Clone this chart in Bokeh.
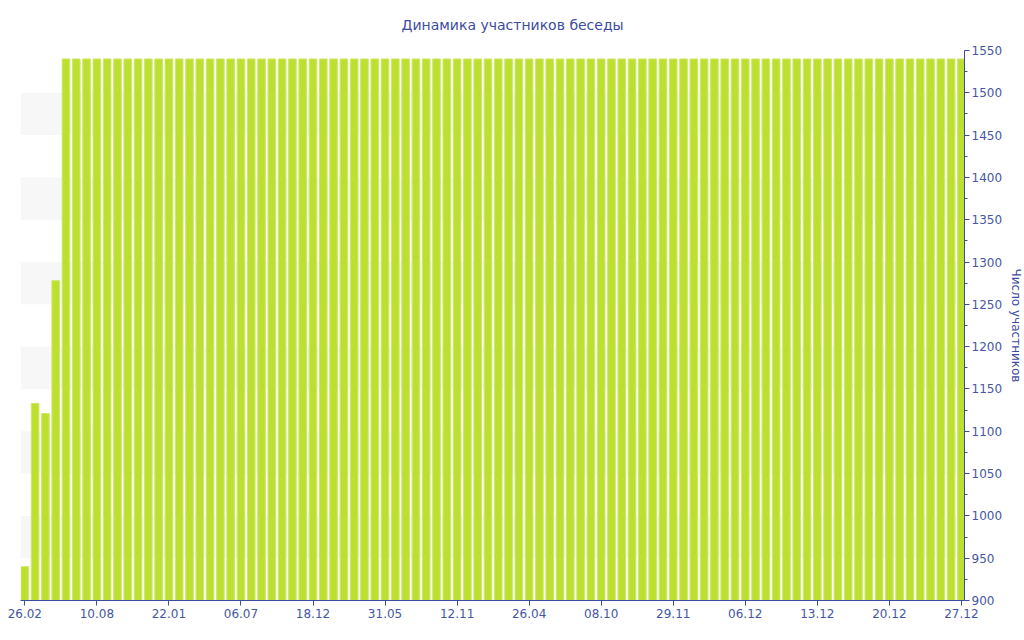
from bokeh.plotting import figure
from bokeh.models import LinearAxis, FixedTicker, Range1d, BoxAnnotation
from bokeh.embed import file_html
from bokeh.resources import INLINE

values = [940, 1133, 1121, 1278,
          1540, 1540, 1540, 1540, 1540, 1540, 1540, 1540,
          1540, 1540, 1540, 1540, 1540, 1540, 1540, 1540,
          1540, 1540, 1540, 1540, 1540, 1540, 1540, 1540,
          1540, 1540, 1540, 1540, 1540, 1540, 1540, 1540,
          1540, 1540, 1540, 1540, 1540, 1540, 1540, 1540,
          1540, 1540, 1540, 1540, 1540, 1540, 1540, 1540,
          1540, 1540, 1540, 1540, 1540, 1540, 1540, 1540,
          1540, 1540, 1540, 1540, 1540, 1540, 1540, 1540,
          1540, 1540, 1540, 1540, 1540, 1540, 1540, 1540,
          1540, 1540, 1540, 1540, 1540, 1540, 1540, 1540,
          1540, 1540, 1540, 1540, 1540, 1540, 1540, 1540]
tick_labels = ["26.02", "10.08", "22.01", "06.07", "18.12", "31.05", "12.11",
               "26.04", "08.10", "29.11", "06.12", "13.12", "20.12", "27.12"]
tick_step = 7
band_ranges = [(950, 1000), (1050, 1100), (1150, 1200), (1250, 1300),
               (1350, 1400), (1450, 1500)]
y_ticks = [900, 950, 1000, 1050, 1100, 1150, 1200, 1250, 1300, 1350,
           1400, 1450, 1500, 1550]

BLUE = "#3c4da0"
TXT = "#4557a3"

x = list(range(len(values)))
p = figure(frame_width=944, frame_height=550, output_backend="svg",
           toolbar_location=None, x_range=Range1d(-0.42, 91.3),
           y_range=Range1d(900, 1550), y_axis_location=None,
           min_border_left=20, min_border_right=4, min_border_top=13,
           min_border_bottom=9)
p.title.text = "Динамика участников беседы"
p.title.align = "left"
p.title.offset = 381
p.title.text_font = "DejaVu Sans"
p.title.text_font_size = "14px"
p.title.text_font_style = "normal"
p.title.text_color = BLUE
p.title.vertical_align = "top"
p.title.standoff = 32
p.outline_line_color = None
p.background_fill_color = "white"
p.xgrid.visible = False
p.ygrid.visible = False

for lo, hi in band_ranges:
    p.add_layout(BoxAnnotation(bottom=lo, top=hi, fill_color="#f7f7f7",
                               fill_alpha=1, line_color=None, level="underlay"))

p.vbar(x=x, top=values, bottom=900, width=0.74, fill_color="#bde030",
       line_color="#cde86a", line_width=1)

xa = p.xaxis[0]
tick_pos = [i * tick_step for i in range(len(tick_labels))]
xa.ticker = FixedTicker(ticks=tick_pos)
xa.major_label_overrides = {t: l for t, l in zip(tick_pos, tick_labels)}
xa.axis_line_color = BLUE
xa.major_tick_line_color = BLUE
xa.major_tick_in = 0
xa.major_tick_out = 5
xa.minor_tick_line_color = None
xa.major_label_text_color = TXT
xa.major_label_text_font = "DejaVu Sans"
xa.major_label_text_font_size = "12px"
xa.major_label_standoff = 3

ya = LinearAxis(ticker=FixedTicker(ticks=y_ticks,
                                   minor_ticks=[v + 25 for v in y_ticks[:-1]]),
                axis_label="Число участников")
ya.axis_line_color = BLUE
ya.major_tick_line_color = BLUE
ya.minor_tick_line_color = BLUE
ya.major_tick_in = 0
ya.major_tick_out = 5
ya.minor_tick_in = 0
ya.minor_tick_out = 3
ya.major_label_text_color = TXT
ya.major_label_text_font = "DejaVu Sans"
ya.major_label_text_font_size = "12px"
ya.major_label_standoff = 2
ya.axis_label_text_color = BLUE
ya.axis_label_text_font = "DejaVu Sans"
ya.axis_label_text_font_size = "12px"
ya.axis_label_text_font_style = "normal"
ya.axis_label_standoff = 4
p.add_layout(ya, "right")

open("out.html", "w").write(file_html(p, INLINE))
